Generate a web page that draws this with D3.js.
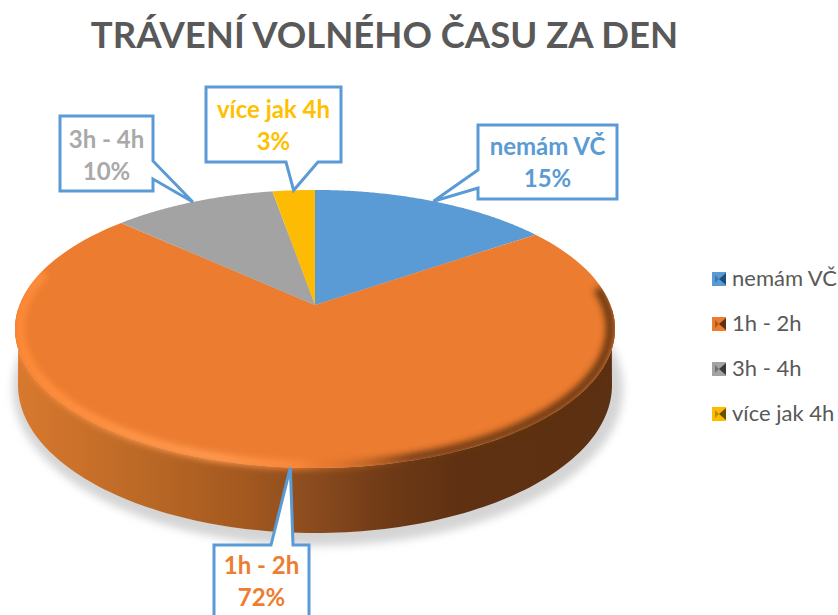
<!DOCTYPE html>
<html>
<head>
<meta charset="utf-8">
<script src="https://cdn.jsdelivr.net/npm/d3@7"></script>
<style>
html,body{margin:0;padding:0;background:#fff;overflow:hidden}
svg{display:block;font-family:Lato,"Open Sans",sans-serif}
</style>
</head>
<body>
<div id="chart"></div>
<script>
const chartTitle = "TRÁVENÍ VOLNÉHO ČASU ZA DEN";
const categories = ["nemám VČ", "1h - 2h", "3h - 4h", "více jak 4h"];
const values = [15.3, 71.6, 10.4, 2.7];
const colors = ["#5b9bd5", "#ec7c30", "#a3a3a3", "#fdbb04"];
const labelColors = ["#5b9bd5", "#ed7d31", "#a9a9a9", "#ffc000"];
const darkColors = ["#1f4e79", "#5f3112", "#3a3a3a", "#6b5000"];

const W = 838, H = 615;
const svg = d3.select("#chart").append("svg").attr("width", W).attr("height", H);
const defs = svg.append("defs");

// perspective projection of the pie's disc
const cx = 315, cy = 305, A = 295.5, B = 134.9, k = 0.1726;
const project = (theta, r = 1) => {
  const u = r * Math.sin(theta), v = r * Math.cos(theta), w = 1 + k * v;
  return [cx + A * u / w, cy - B * v / w];
};
const arcPoints = (a0, a1, r = 1) =>
  d3.range(0, 121).map(i => project(a0 + (a1 - a0) * i / 120, r));
const line = d3.line();

const arcs = d3.pie().sort(null).value(d => d)(values);

// filters
defs.append("filter").attr("id", "blurShadow").attr("x", "-10%").attr("y", "-10%").attr("width", "120%").attr("height", "120%")
  .append("feGaussianBlur").attr("stdDeviation", 4);
defs.append("filter").attr("id", "blurRim").attr("x", "-10%").attr("y", "-10%").attr("width", "120%").attr("height", "120%")
  .append("feGaussianBlur").attr("stdDeviation", 3);

// extruded wall geometry
const botCy = 385, botRx = 297, botRy = 148;
const bottomRim = d3.range(0, 121).map(i => {
  const t = Math.PI * i / 120;
  return [cx + botRx * Math.cos(t), botCy + botRy * Math.sin(t)];
});
const thR = Math.PI / 2 + Math.asin(k), thL = 2 * Math.PI - thR;
const topLower = arcPoints(thR - 0.15, thL + 0.15);
const wallOutline = topLower.concat(bottomRim.slice().reverse());

// wall shading
const wallGrad = defs.append("linearGradient").attr("id", "wallGrad")
  .attr("gradientUnits", "userSpaceOnUse").attr("x1", 14).attr("x2", 615).attr("y1", 0).attr("y2", 0);
[[0, "#d9792f"], [0.2, "#bd6a27"], [0.38, "#a4591f"], [0.5, "#8a4b1e"], [0.62, "#6f3a16"], [0.74, "#5f3112"], [1, "#5c3012"]]
  .forEach(([o, c]) => wallGrad.append("stop").attr("offset", o).attr("stop-color", c));

// rim shading on the orange slice
const rimGrad = defs.append("linearGradient").attr("id", "rimGrad")
  .attr("gradientUnits", "userSpaceOnUse").attr("x1", 14).attr("x2", 615).attr("y1", 0).attr("y2", 0);
[[0, "#ff8a38", 1], [0.2, "#ff9648", 1], [0.34, "#ff9a50", 1], [0.47, "#ff8c3c", 0.8], [0.53, "#d9722c", 0.5], [0.66, "#6a3714", 0.9], [1, "#5c3012", 0.9]]
  .forEach(([o, c, a]) => rimGrad.append("stop").attr("offset", o).attr("stop-color", c).attr("stop-opacity", a));

// shadow
svg.append("ellipse").attr("cx", cx + 3).attr("cy", botCy + 4).attr("rx", botRx + 8).attr("ry", botRy + 9)
  .attr("fill", "#d4d4d4").attr("filter", "url(#blurShadow)");

// wall
svg.append("path").attr("d", line(wallOutline) + "Z").attr("fill", "url(#wallGrad)");

// top face slices
svg.append("g").selectAll("path").data(arcs).join("path")
  .attr("d", d => line([[cx, cy]].concat(arcPoints(d.startAngle, d.endAngle))) + "Z")
  .attr("fill", (d, i) => colors[i]);

// silhouette clip for rim shading
defs.append("clipPath").attr("id", "silhouette").append("path")
  .attr("d", line(arcPoints(0, 2 * Math.PI)) + "Z " + line(wallOutline) + "Z");

// rim highlight and shade, lower part of the orange slice only
const rimStart = Math.PI * 0.46, rimEnd = Math.PI * 1.58;
svg.append("path")
  .attr("d", line(arcPoints(rimStart, rimEnd, 0.985)))
  .attr("fill", "none").attr("stroke", "url(#rimGrad)").attr("stroke-width", 9)
  .attr("filter", "url(#blurRim)").attr("clip-path", "url(#silhouette)");

// title
svg.append("text").attr("x", 384.5).attr("y", 48).attr("text-anchor", "middle")
  .attr("font-size", 36.5).attr("font-weight", 700).attr("fill", "#595959").text(chartTitle);

// callouts: box + wedge pointing to each slice's middle
const boxes = [
  {x0: 478, x1: 617, y0: 125, y1: 199, side: "left", a: 170, b: 188, base: 155},
  {x0: 214, x1: 309, y0: 545, y1: 622, side: "top", a: 271, b: 293, base: 574},
  {x0: 60, x1: 153, y0: 116, y1: 191, side: "right", a: 161, b: 179, base: 148},
  {x0: 206, x1: 341, y0: 87, y1: 162, side: "bottom", a: 286, b: 318, base: 118}
];
const calloutPath = (b, tip) => {
  const {x0, x1, y0, y1, a, b: e} = b;
  let pts;
  if (b.side === "left") pts = [[x0, y0], [x1, y0], [x1, y1], [x0, y1], [x0, e], tip, [x0, a]];
  if (b.side === "right") pts = [[x0, y0], [x1, y0], [x1, a], tip, [x1, e], [x1, y1], [x0, y1]];
  if (b.side === "top") pts = [[x0, y0], [a, y0], tip, [e, y0], [x1, y0], [x1, y1], [x0, y1]];
  if (b.side === "bottom") pts = [[x0, y0], [x1, y0], [x1, y1], [e, y1], tip, [a, y1], [x0, y1]];
  return line(pts) + "Z";
};
const callouts = svg.append("g").selectAll("g").data(arcs).join("g");
callouts.append("path")
  .attr("d", (d, i) => calloutPath(boxes[i], project((d.startAngle + d.endAngle) / 2)))
  .attr("fill", "#fff").attr("stroke", "#5b9bd5").attr("stroke-width", 3).attr("stroke-linejoin", "miter");
callouts.each(function (d, i) {
  const g = d3.select(this), b = boxes[i], mx = (b.x0 + b.x1) / 2;
  g.append("text").attr("x", mx).attr("y", b.base).attr("text-anchor", "middle")
    .attr("font-size", 24).attr("font-weight", 700).attr("fill", labelColors[i]).text(categories[i]);
  g.append("text").attr("x", mx).attr("y", b.base + 32).attr("text-anchor", "middle")
    .attr("font-size", 24).attr("font-weight", 700).attr("fill", labelColors[i]).text(Math.round(d.data) + "%");
});

// legend
const legendY = d3.scalePoint().domain(categories).range([279, 414]);
const legend = svg.append("g").selectAll("g").data(categories).join("g")
  .attr("transform", d => `translate(712,${legendY(d) - 7})`);
legend.append("rect").attr("width", 14).attr("height", 14).attr("fill", (d, i) => colors[i]);
legend.append("path").attr("d", "M14,1L7,7L14,13Z").attr("fill", (d, i) => darkColors[i]);
legend.append("path").attr("d", "M3,3L7,7L3,11Z").attr("fill", (d, i) => darkColors[i]).attr("opacity", 0.45);
legend.append("text").attr("x", 20).attr("y", 14).attr("font-size", 22).attr("fill", "#595959").text(d => d);
</script>
</body>
</html>
